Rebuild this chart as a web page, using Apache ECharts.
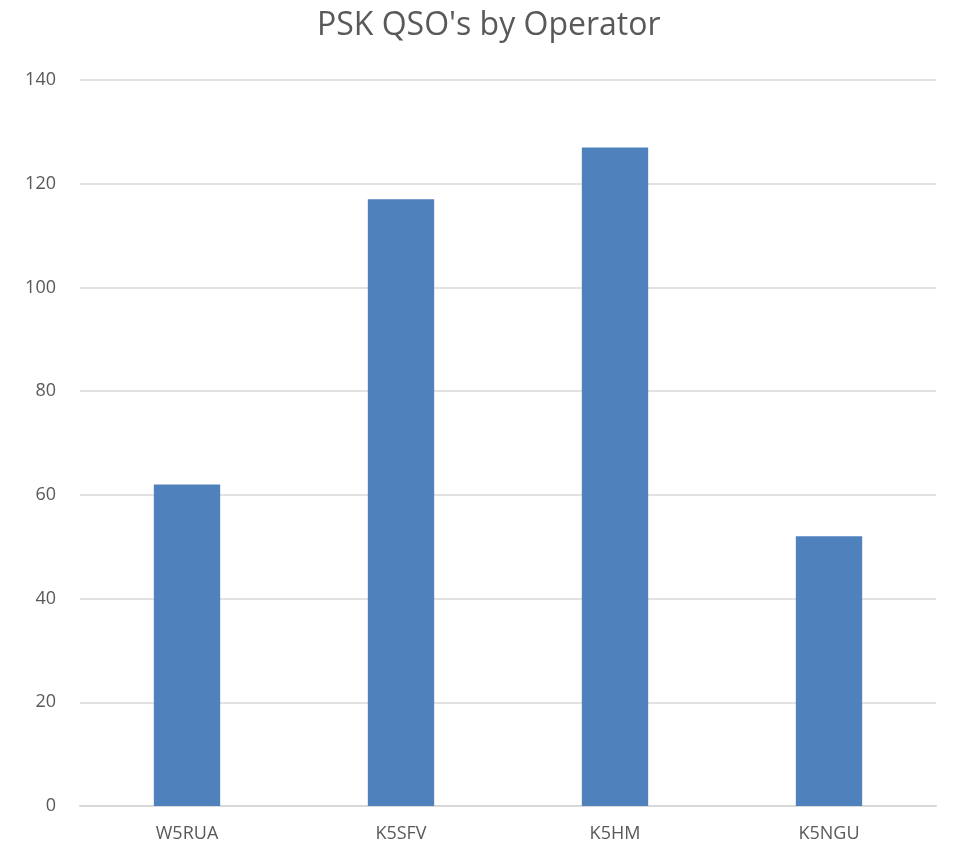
<!DOCTYPE html>
<html lang="en">
<head>
    <meta charset="UTF-8">
    <title>PSK QSO's by Operator</title>
    <script src="https://cdn.jsdelivr.net/npm/echarts@6/dist/echarts.min.js"></script>
    <style>
        html, body { margin: 0; padding: 0; background: #fff; }
        #main { width: 954px; height: 863px; }
    </style>
</head>
<body>
<div id="main"></div>
<script type="text/javascript">
    // chart data
    var operators = ['W5RUA', 'K5SFV', 'K5HM', 'K5NGU'];
    var qsoCounts = [62, 117, 127, 52];

    var myChart = echarts.init(document.getElementById('main'));
    var option = {
        title: {
            text: "PSK QSO's by Operator",
            left: 312,
            top: 5,
            textStyle: {
                fontFamily: 'Open Sans',
                fontWeight: 'normal',
                fontSize: 32,
                color: '#595959'
            }
        },
        grid: { left: 80, right: 18, top: 80, bottom: 57 },
        xAxis: {
            type: 'category',
            data: operators,
            axisLine: { lineStyle: { color: '#d9d9d9', width: 2 } },
            axisTick: { show: false },
            axisLabel: { color: '#595959', fontSize: 18, fontFamily: 'Open Sans', margin: 19 }
        },
        yAxis: {
            type: 'value',
            min: 0,
            max: 140,
            interval: 20,
            axisLine: { show: false },
            axisTick: { show: false },
            splitLine: { lineStyle: { color: '#d9d9d9', width: 1.5 } },
            axisLabel: { color: '#595959', fontSize: 18, fontFamily: 'Open Sans', margin: 24 }
        },
        series: [{
            type: 'bar',
            data: qsoCounts,
            barWidth: '31%',
            itemStyle: { color: '#4f81bd' }
        }]
    };
    myChart.setOption(option);
</script>
</body>
</html>
